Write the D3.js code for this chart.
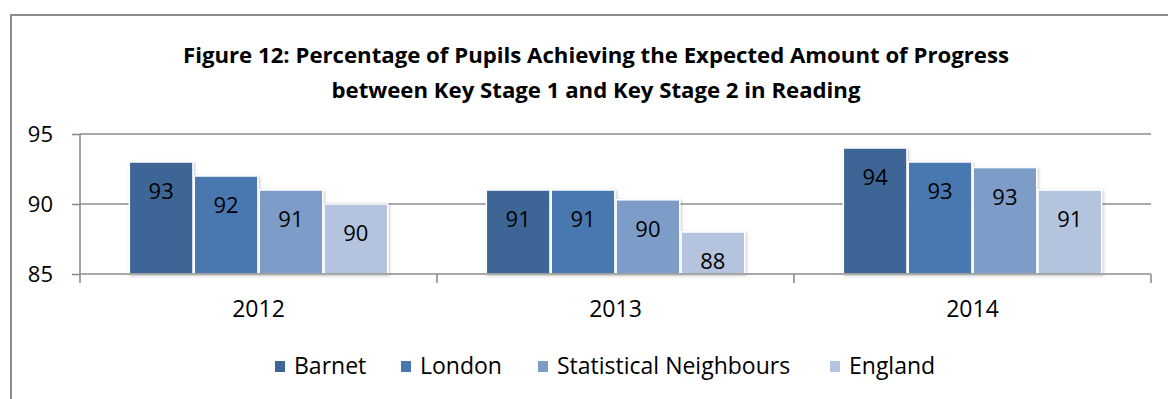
<!DOCTYPE html>
<html>
<head>
<meta charset="utf-8">
<script src="https://cdn.jsdelivr.net/npm/d3@7"></script>
<style>
  html, body { margin: 0; padding: 0; background: #fff; }
  svg { display: block; font-family: "Open Sans", Lato, sans-serif; }
</style>
</head>
<body>
<svg id="chart" width="1168" height="399"></svg>
<script>
// Reading progress KS1 -> KS2, by year and comparator group
const years = ["2012", "2013", "2014"];
const seriesNames = ["Barnet", "London", "Statistical Neighbours", "England"];
const barnet = [93, 91, 94];
const london = [92, 91, 93];
const statNeighbours = [91, 90.3, 92.6];
const england = [90, 88, 91];
const yTicks = [85, 90, 95];
const titleLines = [
  "Figure 12: Percentage of Pupils Achieving the Expected Amount of Progress",
  "between Key Stage 1 and Key Stage 2 in Reading"
];

const colors = ["#3e6595", "#4878b0", "#7e9cc8", "#b4c4df"];
const seriesValues = [barnet, london, statNeighbours, england];
const FONT = "'Open Sans', Lato, sans-serif";

const rows = years.map((yr, i) => ({
  year: yr,
  values: seriesNames.map((name, s) => ({ name, s, value: seriesValues[s][i] }))
}));

const svg = d3.select("#chart");

// soft shadow under the bars
const defs = svg.append("defs");
const f = defs.append("filter").attr("id", "shadow")
  .attr("x", "-10%").attr("y", "-10%").attr("width", "130%").attr("height", "130%");
f.append("feDropShadow").attr("dx", 1).attr("dy", 1).attr("stdDeviation", 1.5)
  .attr("flood-color", "#000").attr("flood-opacity", 0.25);

// outer frame
svg.append("rect")
  .attr("x", 11).attr("y", 15).attr("width", 1180).attr("height", 420)
  .attr("fill", "none").attr("stroke", "#8c8c8c").attr("stroke-width", 2);

// title
const title = svg.append("text")
  .attr("text-anchor", "middle")
  .attr("font-weight", "bold")
  .attr("font-size", 22.2)
  .attr("fill", "#000");
titleLines.forEach((t, i) => {
  title.append("tspan").attr("x", 596).attr("y", 63 + i * 34.5).text(t);
});

const margin = { left: 80, right: 1151, top: 134, bottom: 274 };

const x0 = d3.scaleBand().domain(years).range([margin.left, margin.right]);
const x1 = d3.scaleBand().domain(seriesNames)
  .range([0, x0.bandwidth()]).paddingOuter(0.76).paddingInner(0.02);
const y = d3.scaleLinear().domain([85, 95]).range([margin.bottom, margin.top]);

// gridlines
svg.append("g")
  .selectAll("line")
  .data(yTicks.filter(d => d !== 85))
  .join("line")
  .attr("x1", margin.left).attr("x2", margin.right)
  .attr("y1", d => y(d)).attr("y2", d => y(d))
  .attr("stroke", "#8c8c8c").attr("stroke-width", 1.6);

// y axis
const yAxis = svg.append("g")
  .attr("transform", `translate(${margin.left},0)`)
  .call(d3.axisLeft(y).tickValues(yTicks).tickSize(8).tickPadding(19).tickSizeOuter(0));
yAxis.select(".domain").remove();
yAxis.selectAll(".tick line").attr("stroke", "#8c8c8c").attr("stroke-width", 1.6);
yAxis.selectAll(".tick text")
  .attr("font-family", FONT).attr("font-size", 22).attr("fill", "#000");
yAxis.append("line")
  .attr("x1", 0).attr("x2", 0)
  .attr("y1", margin.top).attr("y2", margin.bottom + 9)
  .attr("stroke", "#8c8c8c").attr("stroke-width", 1.6);

// bars
const groups = svg.append("g")
  .selectAll("g")
  .data(rows)
  .join("g")
  .attr("transform", d => `translate(${x0(d.year)},0)`);

groups.selectAll("rect")
  .data(d => d.values)
  .join("rect")
  .attr("x", d => x1(d.name))
  .attr("y", d => y(d.value))
  .attr("width", x1.bandwidth())
  .attr("height", d => y(85) - y(d.value))
  .attr("fill", d => colors[d.s])
  .attr("stroke", "#fff").attr("stroke-width", 1.5)
  .attr("filter", "url(#shadow)");

groups.selectAll("text")
  .data(d => d.values)
  .join("text")
  .attr("x", d => x1(d.name) + x1.bandwidth() / 2)
  .attr("y", d => y(d.value) + 37)
  .attr("text-anchor", "middle")
  .attr("font-size", 22)
  .attr("fill", "#000")
  .text(d => d3.format(".0f")(d.value));

// x axis
const xAxis = svg.append("g")
  .attr("transform", `translate(0,${margin.bottom})`)
  .call(d3.axisBottom(x0).tickSize(0));
xAxis.select(".domain").remove();
xAxis.selectAll(".tick text")
  .attr("y", 43).attr("dy", null)
  .attr("font-family", FONT).attr("font-size", 23).attr("fill", "#000");
xAxis.append("line")
  .attr("x1", margin.left).attr("x2", margin.right)
  .attr("y1", 0).attr("y2", 0)
  .attr("stroke", "#8c8c8c").attr("stroke-width", 1.6);
xAxis.selectAll(".sep")
  .data(years.map(yr => x0(yr) + x0.bandwidth()))
  .join("line")
  .attr("class", "sep")
  .attr("x1", d => d).attr("x2", d => d)
  .attr("y1", 0).attr("y2", 9)
  .attr("stroke", "#8c8c8c").attr("stroke-width", 1.6);

// legend
const legendX = [275, 401, 538, 830];
const legend = svg.append("g")
  .selectAll("g")
  .data(seriesNames)
  .join("g")
  .attr("transform", (d, i) => `translate(${legendX[i]},361)`);
legend.append("rect")
  .attr("width", 10).attr("height", 11)
  .attr("fill", (d, i) => colors[i]);
legend.append("text")
  .attr("x", 19).attr("y", 13)
  .attr("font-size", 23)
  .attr("fill", "#000")
  .text(d => d);
</script>
</body>
</html>
